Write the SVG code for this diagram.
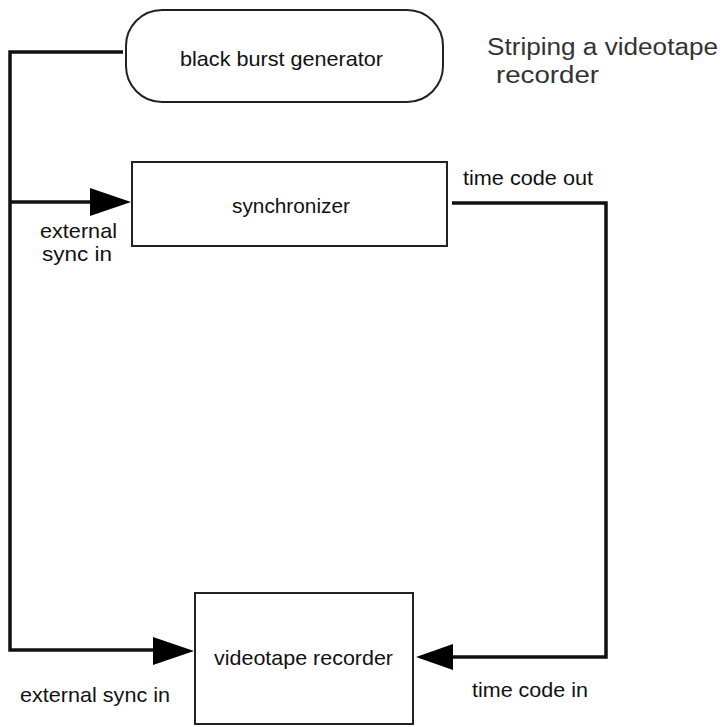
<svg xmlns="http://www.w3.org/2000/svg" width="725" height="727" viewBox="0 0 725 727">
<style>
.box{fill:#fff;stroke:#222;stroke-width:2}
.lbl{font-family:"Liberation Sans",Arial,sans-serif;font-size:21px;fill:#111}
.title{font-family:"Liberation Sans",Arial,sans-serif;font-size:23px;fill:#333}
.wire{fill:none;stroke:#111;stroke-width:3.5}
.head{fill:#000}
</style>
<rect width="725" height="727" fill="#fff"/>
<g id="connectors">
<polyline class="wire" points="123,52 10,52 10,650 155,650"/>
<line class="wire" x1="10" y1="202" x2="92" y2="202"/>
<polygon class="head" points="90,188 131,202 90,216"/>
<polygon class="head" points="153,637 194,651 153,665"/>
<polyline class="wire" points="452,203 606,203 606,657 450,657"/>
<polygon class="head" points="453,644 416,657 453,670"/>
</g>
<g id="generator">
<rect class="box" x="126" y="10" width="317" height="92" rx="36" ry="36"/>
<text class="lbl" x="180" y="66" textLength="203" lengthAdjust="spacingAndGlyphs">black burst generator</text>
</g>
<g id="synchronizer">
<rect class="box" x="132" y="162" width="315" height="84"/>
<text class="lbl" x="232" y="213" textLength="118" lengthAdjust="spacingAndGlyphs">synchronizer</text>
</g>
<g id="vtr">
<rect class="box" x="195" y="593" width="218" height="131" stroke-width="3"/>
<text class="lbl" x="214" y="665" textLength="179" lengthAdjust="spacingAndGlyphs">videotape recorder</text>
</g>
<g id="labels">
<text class="lbl" x="40" y="238" textLength="77" lengthAdjust="spacingAndGlyphs">external</text>
<text class="lbl" x="42" y="261" textLength="70" lengthAdjust="spacingAndGlyphs">sync in</text>
<text class="lbl" x="463" y="185" textLength="130" lengthAdjust="spacingAndGlyphs">time code out</text>
<text class="lbl" x="20" y="702" textLength="150" lengthAdjust="spacingAndGlyphs">external sync in</text>
<text class="lbl" x="472" y="697" textLength="116" lengthAdjust="spacingAndGlyphs">time code in</text>
<text class="title" x="487" y="55" textLength="231" lengthAdjust="spacingAndGlyphs">Striping a videotape</text>
<text class="title" x="496" y="83" textLength="103" lengthAdjust="spacingAndGlyphs">recorder</text>
</g>
</svg>
